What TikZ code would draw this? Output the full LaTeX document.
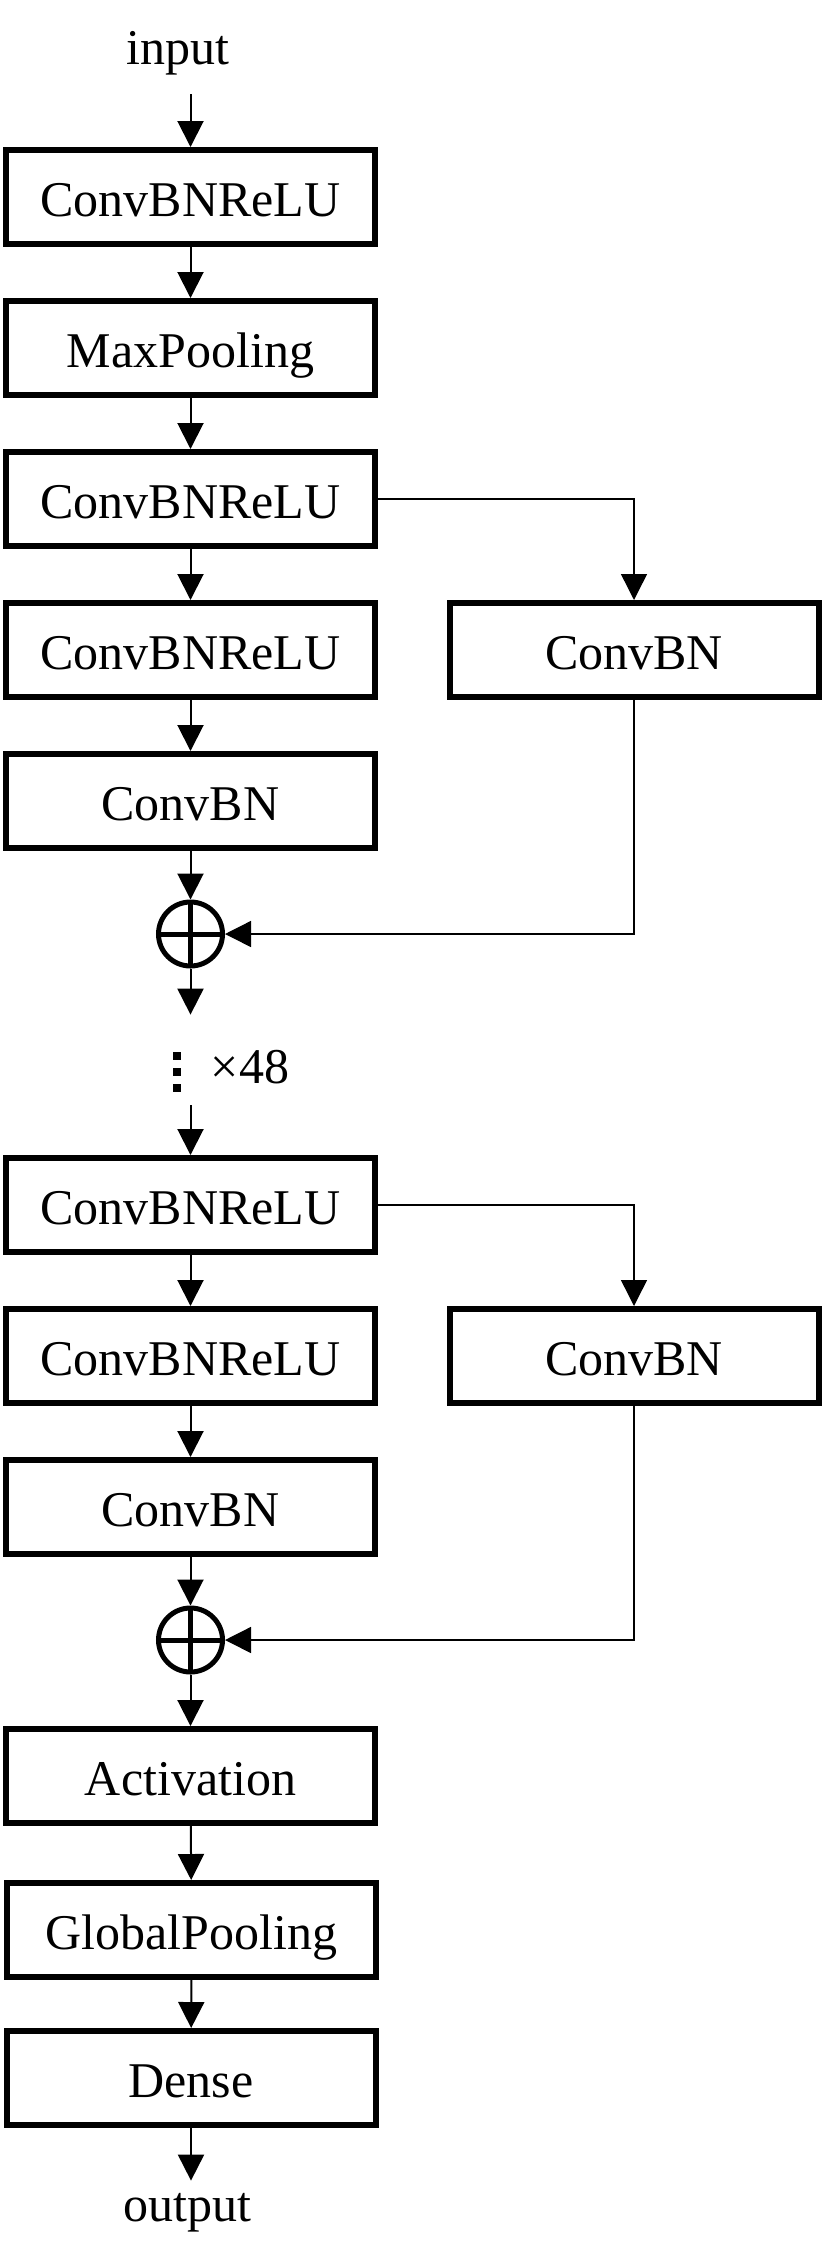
\documentclass[tikz,border=0pt]{standalone}
\usepackage{fontspec}
\setmainfont{Liberation Serif}
\usetikzlibrary{arrows.meta}

\tikzset{
	block/.style={draw, line width=3pt, minimum width=184.5pt, minimum height=47pt,
		inner sep=0pt, text height=19pt, text depth=0pt},
	io/.style={inner xsep=0pt, inner ysep=7pt, text height=13pt, text depth=8pt, anchor=base},
	plus/.style={draw, circle, line width=2.5pt, minimum size=32pt, inner sep=0pt,
		path picture={\draw[line width=2.5pt]
			(path picture bounding box.north) -- (path picture bounding box.south)
			(path picture bounding box.west) -- (path picture bounding box.east);}},
	arr/.style={-{Triangle[length=13pt,width=13pt]}, line width=1pt},
	link/.style={-{Triangle[length=13pt,width=13pt]}, line width=0.7pt}
}

\begin{document}
\begin{tikzpicture}[x=0.5pt, y=-0.5pt, font=\fontsize{25}{30}\selectfont]
			\useasboundingbox (0,0) rectangle (824,2265);

			\node[io] (in) at (178,64) {input};
			\node[block] (b1) at (190.5,197) {ConvBNReLU};
			\node[block] (b2) at (190.5,348) {MaxPooling};
			\node[block] (b3) at (190.5,499) {ConvBNReLU};
			\node[block] (b4) at (190.5,650) {ConvBNReLU};
			\node[block] (b5) at (190.5,801) {ConvBN};
			\node[block] (r1) at (634,650) {ConvBN};
			\node[plus] (s1) at (190.5,934) {};

			\coordinate (e1) at (190.5,1014.6);
			\coordinate (dots) at (177,1072);
			\node[anchor=base] (rep) at (250,1083) {×48};
			\coordinate (e2) at (190.5,1105);

			\node[block] (c1) at (190.5,1205) {ConvBNReLU};
			\node[block] (c2) at (190.5,1356) {ConvBNReLU};
			\node[block] (c3) at (190.5,1507) {ConvBN};
			\node[block] (r2) at (634,1356) {ConvBN};
			\node[plus] (s2) at (190.5,1640) {};

			\node[block] (act) at (190.5,1776) {Activation};
			\node[block] (gp) at (191.5,1930) {GlobalPooling};
			\node[block] (fc) at (191,2078) {Dense};
			\node[io] (out) at (187,2221) {output};

			\draw[arr] (in.south -| b1) -- (b1);
			\draw[arr] (b1) -- (b2);
			\draw[arr] (b2) -- (b3);
			\draw[arr] (b3) -- (b4);
			\draw[arr] (b4) -- (b5);
			\draw[arr] (b5) -- (s1);
			\draw[arr] (s1) -- (e1);
			\draw[link] (b3) -| (r1);
			\draw[link] (r1) |- (s1);

			\foreach \d in {-16,0,16}
				\fill ([yshift=\d*0.5pt]dots) ++(-2pt,-2pt) rectangle ++(4pt,4pt);

			\draw[arr] (e2) -- (c1);
			\draw[arr] (c1) -- (c2);
			\draw[arr] (c2) -- (c3);
			\draw[arr] (c3) -- (s2);
			\draw[link] (c1) -| (r2);
			\draw[link] (r2) |- (s2);

			\draw[arr] (s2) -- (act);
			\draw[arr] (act) -- (gp);
			\draw[arr] (gp) -- (fc);
			\draw[arr] (fc) -- (out.north -| fc);
		\end{tikzpicture}
\end{document}
